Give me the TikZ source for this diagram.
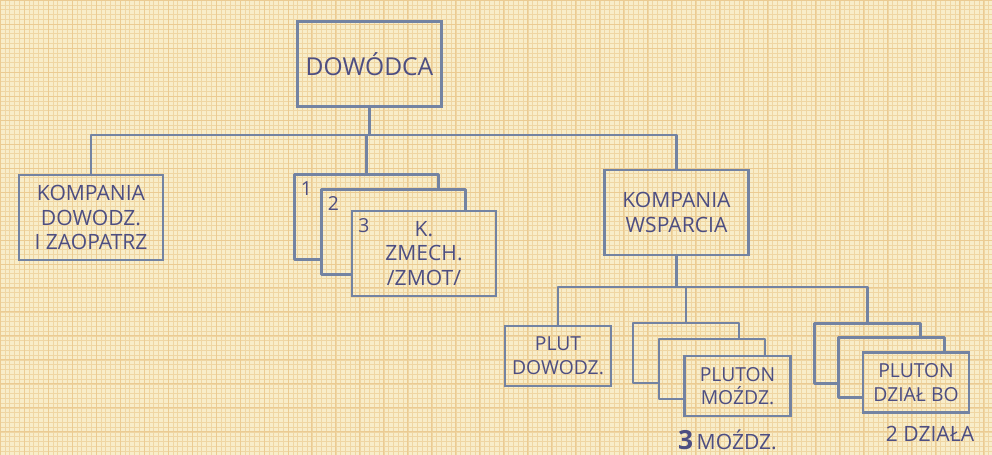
\documentclass[tikz,border=0pt]{standalone}
\usepackage{fontspec}
\setmainfont{Open Sans}
\usepackage{tikz}
\usetikzlibrary{
  positioning,
  calc
}
\definecolor{orgPaper}{HTML}{F8EDC9}
\definecolor{orgGrid}{HTML}{EFD6A3}
\definecolor{orgGridB}{HTML}{EBCB92}
\definecolor{orgLine}{HTML}{7383A2}
\definecolor{orgInk}{HTML}{4D4E82}
\tikzset{
  unit/.style={
    draw=orgLine, line width=1.5pt, outer sep=0pt, minimum width=2.88cm,
    minimum height=1.7cm, align=center, text=orgInk,
    font=\fontsize{12}{14}\selectfont
  },
  plat/.style={unit, minimum width=2.12cm, minimum height=1.2cm, font=\fontsize{11}{13.5}\selectfont},
  ghost/.style={draw=none},
  link/.style={draw=orgLine, line width=1.5pt, line join=round},
  num/.style={anchor=north west, text=orgInk, font=\fontsize{11}{12}\selectfont, inner sep=0pt, xshift=1.2mm, yshift=-1.4mm},
  note/.style={text=orgInk, font=\fontsize{12}{14}\selectfont}
}
\begin{document}
\begin{tikzpicture}[x=0.02cm, y=-0.02cm]
  \useasboundingbox[fill=orgPaper] (0,0) rectangle (992,455);
  \draw[orgGrid, line width=0.25pt, step=0.096cm] (0,0) grid (992,455);
  \draw[orgGridB, line width=0.5pt, step=0.48cm] (0,0) grid (992,455);

  % command level
  \node[unit, font=\fontsize{14}{16}\selectfont] (cmd) at (369.5,64) {DOWÓDCA};
  \node[unit] (kdow) at (91,217.5) {KOMPANIA\\DOWODZ.\\I ZAOPATRZ};
  \node[unit, ghost, label={[num]north west:1}] (kz1) at (366.5,217) {};
  \node[unit, ghost, label={[num]north west:2}] (kz2) at (393.5,232) {};
  \node[unit, label={[num]north west:3}] (kz3) at (424,253.5) {K.\\ZMECH.\\/ZMOT/};
  \node[unit] (kwsp) at (676.5,212.5) {KOMPANIA\\WSPARCIA};

  % support company platoons
  \node[plat] (pdow) at (558,356) {PLUT\\DOWODZ.};
  \node[plat, ghost] (m1) at (686,353) {};
  \node[plat, ghost] (m2) at (712,369) {};
  \node[plat] (m3) at (737.5,386) {PLUTON\\MOŹDZ.};
  \node[plat, ghost] (g1) at (867.5,353.5) {};
  \node[plat, ghost] (g2) at (891.5,367.5) {};
  \node[plat] (g3) at (916,382.5) {PLUTON\\DZIAŁ BO};
  \node[note, below=1.5mm of m3, xshift=-2mm] (m3note) {{\fontsize{15}{15}\selectfont\bfseries 3}\,MOŹDZ.};
  \node[note, below=1.5mm of g3, xshift=2.8mm] (g3note) {2 DZIAŁA};

  % stacked copies
  \draw[link] (kz2.north west |- kz1.south) -- (kz1.south west) -- (kz1.north west) -- (kz1.north east) -- (kz1.north east |- kz2.north);
  \draw[link] (kz3.north west |- kz2.south) -- (kz2.south west) -- (kz2.north west) -- (kz2.north east) -- (kz2.north east |- kz3.north);
  \draw[link] (m2.north west |- m1.south) -- (m1.south west) -- (m1.north west) -- (m1.north east) -- (m1.north east |- m2.north);
  \draw[link] (m3.north west |- m2.south) -- (m2.south west) -- (m2.north west) -- (m2.north east) -- (m2.north east |- m3.north);
  \draw[link] (g2.north west |- g1.south) -- (g1.south west) -- (g1.north west) -- (g1.north east) -- (g1.north east |- g2.north);
  \draw[link] (g3.north west |- g2.south) -- (g2.south west) -- (g2.north west) -- (g2.north east) -- (g2.north east |- g3.north);

  % connectors
  \coordinate (bus1) at (375,135);
  \coordinate (bus2) at (682,287);
  \draw[link] (cmd.south) -- (cmd.south |- bus1);
  \draw[link] (kdow.north) |- (bus1) -| (kwsp.north);
  \draw[link] (kz1.north) -- (kz1.north |- bus1);
  \draw[link] (kwsp.south) -- (kwsp.south |- bus2);
  \draw[link] (pdow.north) |- (bus2) -| (g1.north);
  \draw[link] (m1.north) -- (m1.north |- bus2);
\end{tikzpicture}
\end{document}
